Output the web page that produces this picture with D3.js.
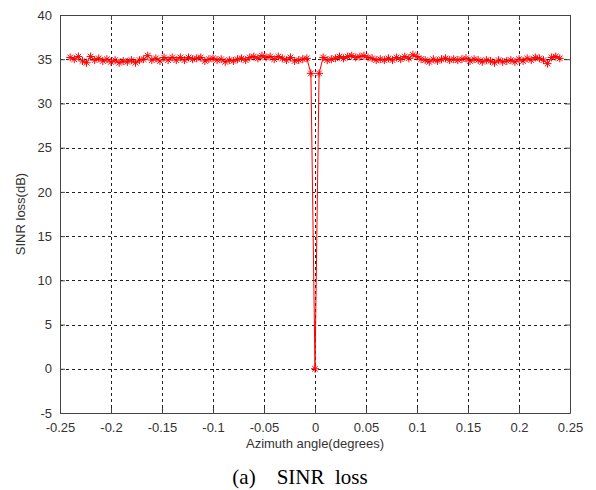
<!DOCTYPE html>
<html><head><meta charset="utf-8">
<script src="https://cdn.jsdelivr.net/npm/d3@7/dist/d3.min.js"></script>
<style>body{margin:0;background:#fff}svg{display:block}</style>
</head><body>
<script>
const angles = [-0.240,-0.236,-0.232,-0.228,-0.224,-0.220,-0.216,-0.212,-0.208,-0.204,-0.200,-0.196,-0.192,-0.188,-0.184,-0.180,-0.176,-0.172,-0.168,-0.164,-0.160,-0.156,-0.152,-0.148,-0.144,-0.140,-0.136,-0.132,-0.128,-0.124,-0.120,-0.116,-0.112,-0.108,-0.104,-0.100,-0.096,-0.092,-0.088,-0.084,-0.080,-0.076,-0.072,-0.068,-0.064,-0.060,-0.056,-0.052,-0.048,-0.044,-0.040,-0.036,-0.032,-0.028,-0.024,-0.020,-0.016,-0.012,-0.008,-0.004,0,
0.004,0.008,0.012,0.016,0.020,0.024,0.028,0.032,0.036,0.040,0.044,0.048,0.052,0.056,0.060,0.064,0.068,0.072,0.076,0.080,0.084,0.088,0.092,0.096,0.100,0.104,0.108,0.112,0.116,0.120,0.124,0.128,0.132,0.136,0.140,0.144,0.148,0.152,0.156,0.160,0.164,0.168,0.172,0.176,0.180,0.184,0.188,0.192,0.196,0.200,0.204,0.208,0.212,0.216,0.220,0.224,0.228,0.232,0.236,0.240];
const sinrLoss = [35.2,35.0,35.3,34.8,34.6,35.3,34.9,35.1,34.8,35.0,34.7,34.9,34.6,34.8,34.7,34.9,34.6,34.9,35.0,35.4,34.9,35.1,34.8,35.2,34.9,35.2,34.9,35.2,34.9,35.2,35.0,35.1,35.2,34.8,35.0,35.1,34.9,35.0,34.7,34.9,34.8,35.0,35.1,34.9,35.2,35.3,35.1,35.4,35.2,35.3,35.0,35.3,35.1,34.9,35.2,34.8,34.9,35.0,35.1,33.4,0,
33.4,35.2,34.9,35.0,35.1,35.3,35.1,35.3,35.4,35.2,35.3,35.4,35.2,35.1,34.9,35.0,34.9,35.1,34.9,35.2,35.0,35.3,35.1,35.5,35.3,35.0,34.9,34.7,35.0,34.8,35.0,35.1,34.9,35.0,34.9,35.0,35.1,34.8,35.0,34.9,34.7,34.9,34.8,34.6,34.9,34.7,34.8,34.9,34.7,35.0,34.8,35.1,34.9,35.2,35.1,34.9,34.5,35.2,35.3,35.1];
const xTicks = [-0.25,-0.2,-0.15,-0.1,-0.05,0,0.05,0.1,0.15,0.2,0.25];
const xTickLabels = ["-0.25","-0.2","-0.15","-0.1","-0.05","0","0.05","0.1","0.15","0.2","0.25"];
const yTicks = [-5,0,5,10,15,20,25,30,35,40];
const yTickLabels = ["-5","0","5","10","15","20","25","30","35","40"];
const xTitle = "Azimuth angle(degrees)";
const yTitle = "SINR loss(dB)";
const caption = "(a)    SINR  loss";

const W = 596, H = 490;
const m = {l: 60, r: 570, t: 15, b: 413};
const svg = d3.select("body").append("svg").attr("width", W).attr("height", H);
const x = d3.scaleLinear().domain([-0.25, 0.25]).range([m.l, m.r]);
const y = d3.scaleLinear().domain([-5, 40]).range([m.b, m.t]);

// grid
const grid = svg.append("g").attr("stroke", "#222").attr("stroke-width", 1).attr("stroke-dasharray", "3,3");
xTicks.slice(1, -1).forEach(t => grid.append("line").attr("x1", Math.round(x(t))+0.5).attr("x2", Math.round(x(t))+0.5).attr("y1", m.t).attr("y2", m.b));
yTicks.slice(1, -1).forEach(t => grid.append("line").attr("y1", Math.round(y(t))+0.5).attr("y2", Math.round(y(t))+0.5).attr("x1", m.l).attr("x2", m.r));

// axes
const font = "Arial, 'Liberation Sans', sans-serif";
const xa = svg.append("g").attr("transform", `translate(0,${m.b})`)
  .call(d3.axisBottom(x).tickValues(xTicks).tickFormat((d,i) => xTickLabels[i]).tickSizeInner(-5).tickSizeOuter(0).tickPadding(10));
const xt = svg.append("g").attr("transform", `translate(0,${m.t})`)
  .call(d3.axisTop(x).tickValues(xTicks).tickFormat("").tickSizeInner(-5).tickSizeOuter(0));
const ya = svg.append("g").attr("transform", `translate(${m.l},0)`)
  .call(d3.axisLeft(y).tickValues(yTicks).tickFormat((d,i) => yTickLabels[i]).tickSizeInner(-5).tickSizeOuter(0).tickPadding(8));
const yr = svg.append("g").attr("transform", `translate(${m.r},0)`)
  .call(d3.axisRight(y).tickValues(yTicks).tickFormat("").tickSizeInner(-5).tickSizeOuter(0));
[xa, xt, ya, yr].forEach(g => {
  g.select(".domain").attr("stroke", "#444");
  g.selectAll(".tick line").attr("stroke", "#444");
  g.selectAll("text").attr("font-family", font).attr("font-size", 13).attr("fill", "#333");
});

// line
svg.append("path").datum(angles.map((a,i)=>[a, sinrLoss[i]]))
  .attr("fill", "none").attr("stroke", "#ff0000").attr("stroke-width", 1)
  .attr("d", d3.line().x(d => x(d[0])).y(d => y(d[1])));

// asterisk markers
const s = 4;
const mk = svg.append("g").attr("stroke", "#ff0000").attr("stroke-width", 1);
angles.forEach((a,i) => {
  const cx = x(a), cy = y(sinrLoss[i]);
  mk.append("path").attr("d",
    `M${cx-s},${cy}L${cx+s},${cy}M${cx},${cy-s}L${cx},${cy+s}` +
    `M${cx-s*0.7},${cy-s*0.7}L${cx+s*0.7},${cy+s*0.7}M${cx-s*0.7},${cy+s*0.7}L${cx+s*0.7},${cy-s*0.7}`);
});

// titles
svg.append("text").attr("x", (m.l+m.r)/2).attr("y", 448).attr("text-anchor", "middle")
  .attr("font-family", font).attr("font-size", 13).attr("fill", "#333").text(xTitle);
svg.append("text").attr("transform", `translate(25,${(m.t+m.b)/2}) rotate(-90)`).attr("text-anchor", "middle")
  .attr("font-family", font).attr("font-size", 13).attr("fill", "#333").text(yTitle);
svg.append("text").attr("x", 300).attr("y", 484).attr("text-anchor", "middle")
  .attr("font-family", "'Liberation Serif', 'Times New Roman', serif").attr("font-size", 21).attr("fill", "#000")
  .attr("xml:space", "preserve").style("white-space", "pre").text(caption);
</script>
</body></html>
